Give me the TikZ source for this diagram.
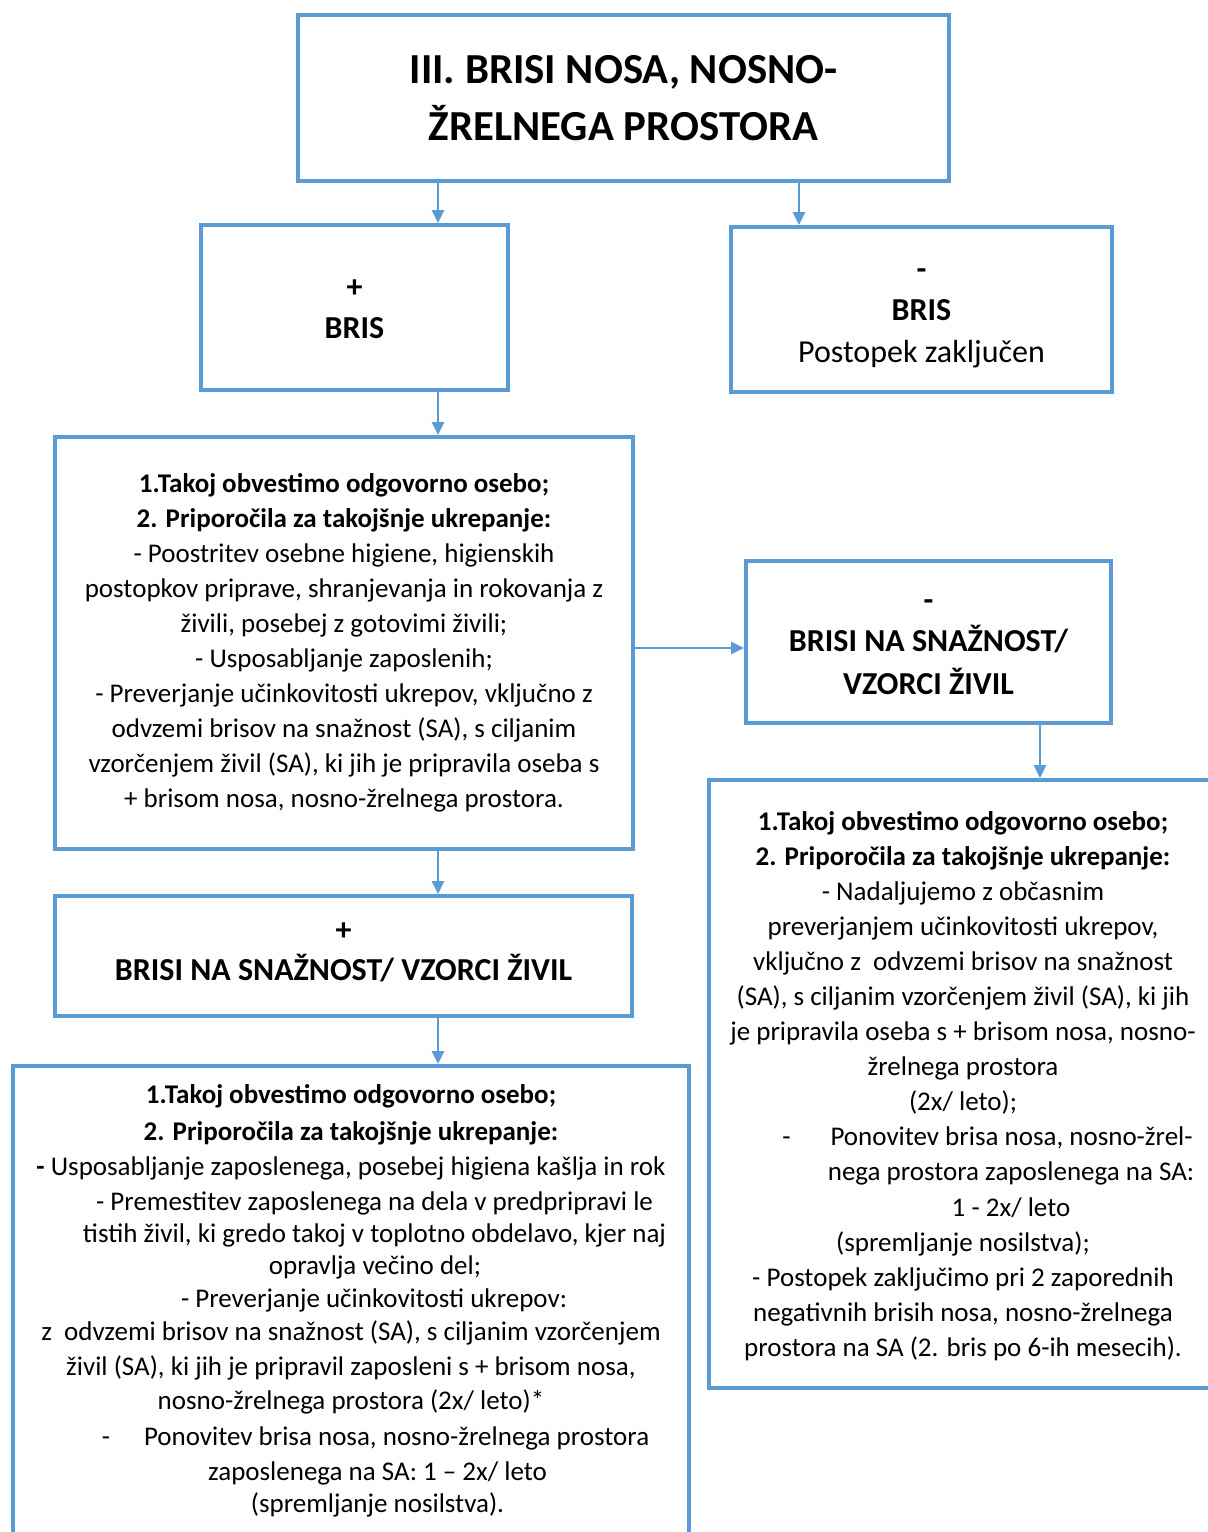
\documentclass[tikz,border=0pt]{standalone}
\usepackage{fontspec}
\setmainfont{Carlito}
\usetikzlibrary{arrows.meta,positioning,calc}
\definecolor{boxblue}{HTML}{5B9BD5}
\newdimen\px \px=0.5pt
\newcommand{\bodyfont}{\fontsize{13.5}{17.5}\selectfont}
\newcommand{\headfont}{\fontsize{16}{20.5}\selectfont\bfseries}
\newcommand{\titlefont}{\fontsize{21.4}{28.5}\selectfont\bfseries}
\newcommand{\strutup}[1]{\rule{0pt}{#1}}
\newcommand{\strutdown}[1]{\rule[-#1]{0pt}{0pt}}
\newcommand{\ind}[1]{\hspace*{#1}}
\tikzset{
  box/.style={draw=boxblue, line width=2pt, align=center, inner sep=0pt},
  link/.style={draw=boxblue, line width=1.3pt, -{Triangle[length=6.5pt,width=6pt]}},
}
\begin{document}
\begin{tikzpicture}[x=0.5pt,y=-0.5pt]
  \useasboundingbox (0,0) rectangle (1208,1532);
  % columns of the connectors
  \coordinate (colL) at (438,0);
  \coordinate (colR) at (799,0);
  \coordinate (colRR) at (1040,0);
  \coordinate (rowM) at (0,648);

  \node[box,font=\titlefont,minimum width=651\px,minimum height=166\px] (title) at (623.5,98)
    {\strutup{14.8pt}III. BRISI NOSA, NOSNO-\\ŽRELNEGA PROSTORA\strutdown{1pt}};
  \node[box,font=\headfont,minimum width=307\px,minimum height=165\px] (pos) at (354.5,307.5)
    {\strutup{11.5pt}+\\BRIS\strutdown{1pt}};
  \node[box,font=\headfont,minimum width=381\px,minimum height=165\px] (neg) at (921.5,309.5)
    {\strutup{15pt}-\\BRIS\\[0.5pt]\textmd{Postopek zaključen}\strutdown{4pt}};

  % positive branch
  \node[box,font=\bodyfont,minimum width=578\px,minimum height=412\px] (act) at (344,643)
    {\strutup{11.5pt}\textbf{1.Takoj obvestimo odgovorno osebo;}\\
     \textbf{2. Priporočila za takojšnje ukrepanje:}\\
     - Poostritev osebne higiene, higienskih\\
     postopkov priprave, shranjevanja in rokovanja z\\
     živili, posebej z gotovimi živili;\\
     - Usposabljanje zaposlenih;\\
     - Preverjanje učinkovitosti ukrepov, vključno z\\
     odvzemi brisov na snažnost (SA), s ciljanim\\
     vzorčenjem živil (SA), ki jih je pripravila oseba s\\
     + brisom nosa, nosno-žrelnega prostora.\strutdown{5pt}};
  \node[box,font=\headfont,minimum width=577\px,minimum height=120\px] (possa) at (343.5,956)
    {\strutup{11pt}+\\[-0.5pt]BRISI NA SNAŽNOST/ VZORCI ŽIVIL\strutdown{6.5pt}};
  \node[box,font=\bodyfont,minimum width=676\px,inner ysep=5.5pt,anchor=north] (posact) at (351,1064)
    {\strutup{13pt}\textbf{1.Takoj obvestimo odgovorno osebo;}\\[1pt]
     \textbf{2. Priporočila za takojšnje ukrepanje:}\\
     \textbf{-} Usposabljanje zaposlenega, posebej higiena kašlja in rok\\
     \ind{23.5pt}- Premestitev zaposlenega na dela v predpripravi le\\[-1.5pt]
     \ind{23.5pt}tistih živil, ki gredo takoj v toplotno obdelavo, kjer naj\\[-1.5pt]
     \ind{24pt}opravlja večino del;\\[-1pt]
     \ind{23pt}- Preverjanje učinkovitosti ukrepov:\\[-1pt]
     z~ odvzemi brisov na snažnost (SA), s ciljanim vzorčenjem\\
     živil (SA), ki jih je pripravil zaposleni s + brisom nosa,\\[-0.5pt]
     nosno-žrelnega prostora (2x/ leto)*\\[0.5pt]
     \ind{24.5pt}-\hspace{17pt}Ponovitev brisa nosa, nosno-žrelnega prostora\\
     \ind{26.5pt}zaposlenega na SA: 1 – 2x/ leto\\[-1.5pt]
     \ind{26.5pt}(spremljanje nosilstva).\strutdown{40pt}};

  % negative branch
  \node[box,font=\headfont,minimum width=365\px,minimum height=162\px] (negsa) at (928.5,642)
    {\strutup{11.65pt}-\\[-0.3pt]BRISI NA SNAŽNOST/\\[1pt]VZORCI ŽIVIL\strutdown{1pt}};
  \node[box,font=\bodyfont,minimum width=508\px,minimum height=608\px] (negact) at (963,1084)
    {\strutup{13.5pt}\textbf{1.Takoj obvestimo odgovorno osebo;}\\
     \textbf{2. Priporočila za takojšnje ukrepanje:}\\
     - Nadaljujemo z občasnim\\
     preverjanjem učinkovitosti ukrepov,\\
     vključno z~ odvzemi brisov na snažnost\\
     (SA), s ciljanim vzorčenjem živil (SA), ki jih\\
     je pripravila oseba s + brisom nosa, nosno-\\
     žrelnega prostora\\
     (2x/ leto);\\
     \ind{24.5pt}-\hspace{20pt}Ponovitev brisa nosa, nosno-žrel-\\
     \ind{48pt}nega prostora zaposlenega na SA:\\[0.5pt]
     \ind{48pt}1 - 2x/ leto\\
     (spremljanje nosilstva);\\
     - Postopek zaključimo pri 2 zaporednih\\
     negativnih brisih nosa, nosno-žrelnega\\
     prostora na SA (2. bris po 6-ih mesecih).\strutdown{4.5pt}};

  \draw[link] (title.south -| colL) -- (pos.north -| colL);
  \draw[link] (title.south -| colR) -- (neg.north -| colR);
  \draw[link] (pos.south -| colL) -- (act.north -| colL);
  \draw[link] (act.east |- rowM) -- (negsa.west |- rowM);
  \draw[link] (negsa.south -| colRR) -- (negact.north -| colRR);
  \draw[link] (act.south -| colL) -- (possa.north -| colL);
  \draw[link] (possa.south -| colL) -- (posact.north -| colL);
\end{tikzpicture}
\end{document}
